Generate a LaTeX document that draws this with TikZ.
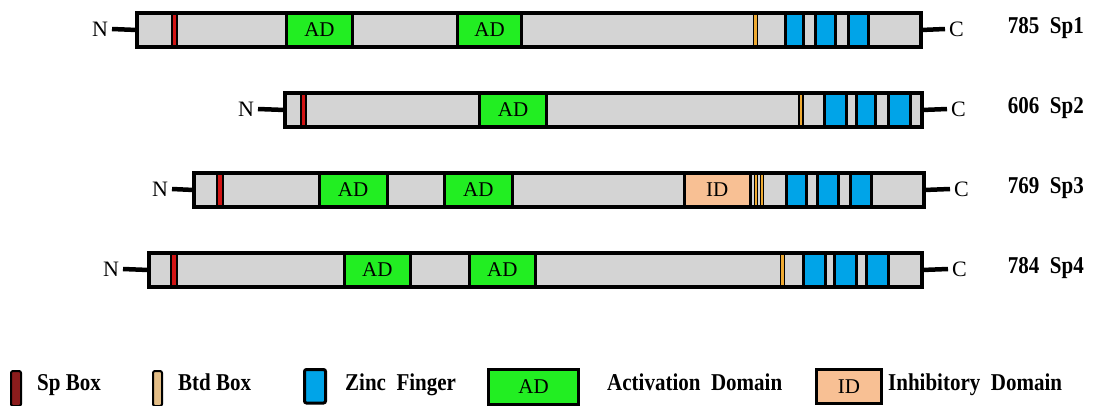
\documentclass[tikz,border=0pt]{standalone}
\usepackage{fontspec}
\usepackage{graphicx}
\setmainfont{Liberation Serif}
\definecolor{protgray}{RGB}{212,212,212}
\definecolor{adgreen}{RGB}{34,238,34}
\definecolor{znblue}{RGB}{0,164,232}
\definecolor{spred}{RGB}{210,20,20}
\definecolor{btdorange}{RGB}{238,170,50}
\definecolor{idpeach}{RGB}{248,192,148}
\definecolor{legred}{RGB}{140,28,28}
\definecolor{legtan}{RGB}{228,190,135}
\newcommand\tallt[1]{\scalebox{1}[1.15]{#1}}
\newcommand\protseg[6]{\node[#2, minimum width={(#4-#3)*1pt}] (#1) at ({(#3+#4)/2},#5) {#6};}
\newcommand\legbox[7]{\node[#2, minimum width={(#4-#3)*1pt}, minimum height={(#6-#5)*1pt}] (#1) at ({(#3+#4)/2},{(#5+#6)/2}) {#7};}
\tikzset{
  protfill/.style={rectangle, fill=protgray, inner sep=0pt, outer sep=0pt, minimum height=34pt},
  protborder/.style={draw=black, line width=4pt},
  dom/.style={rectangle, draw=black, line width=3pt, inner sep=0pt, outer sep=0pt, minimum height=34pt, font=\fontsize{21}{24}\selectfont},
  adbox/.style={dom, fill=adgreen},
  idbox/.style={dom, fill=idpeach},
  zfbox/.style={dom, fill=znblue},
  spbox/.style={dom, fill=spred, line width=1.5pt},
  btdbox/.style={dom, fill=btdorange, line width=1.2pt},
  term/.style={font=\fontsize{22}{24}\selectfont, inner xsep=4pt, inner ysep=0pt, outer sep=0pt},
  conn/.style={line width=4.5pt},
  protname/.style={font=\bfseries\fontsize{21}{24}\selectfont, inner sep=0pt},
  legtext/.style={font=\bfseries\fontsize{21}{24}\selectfont, inner sep=0pt},
  legsp/.style={rectangle, rounded corners=2pt, draw=black, line width=2pt, fill=legred, inner sep=0pt},
  legbtd/.style={rectangle, rounded corners=2pt, draw=black, line width=2pt, fill=legtan, inner sep=0pt},
  legzf/.style={rectangle, rounded corners=2pt, draw=black, line width=3pt, fill=znblue, inner sep=0pt},
  legad/.style={rectangle, draw=black, line width=3pt, fill=adgreen, inner sep=0pt, font=\fontsize{21}{24}\selectfont},
  legid/.style={rectangle, draw=black, line width=3pt, fill=idpeach, inner sep=0pt, font=\fontsize{21}{24}\selectfont},
}
\begin{document}
\begin{tikzpicture}[x=1pt,y=-1pt]
\useasboundingbox (0,0) rectangle (1103,405);
\fill[white] (0,0) rectangle (1103,405);

% ---------- Sp1 ----------
\protseg{p1}{protfill}{137}{921}{30}{}
\protseg{sp1}{spbox}{172}{177}{30}{}
\protseg{ad1a}{adbox}{286.5}{352.5}{30}{AD}
\protseg{ad1b}{adbox}{457.5}{521.5}{30}{AD}
\protseg{bt1}{btdbox}{753.5}{757.5}{30}{}
\protseg{z1a}{zfbox}{785.5}{803.5}{30}{}
\protseg{z1b}{zfbox}{815.5}{835.5}{30}{}
\protseg{z1c}{zfbox}{848.5}{868.5}{30}{}
\draw[protborder] (p1.north west) rectangle (p1.south east);
\node[term, anchor=east] (n1) at (112,29) {N};
\node[term, anchor=west] (c1) at (945,29) {C};
\draw[conn] (n1.east) -- (p1.west);
\draw[conn] (p1.east) -- (c1.west);
\node[protname, anchor=base east] (l1) at (1084,33) {\tallt{785\ \ Sp1}};

% ---------- Sp2 ----------
\protseg{p2}{protfill}{285}{922}{110}{}
\protseg{sp2}{spbox}{301}{306}{110}{}
\protseg{ad2a}{adbox}{479.5}{546.5}{110}{AD}
\protseg{bt2}{btdbox}{799}{803}{110}{}
\protseg{z2a}{zfbox}{824.5}{846.5}{110}{}
\protseg{z2b}{zfbox}{856.5}{875.5}{110}{}
\protseg{z2c}{zfbox}{888.5}{910.5}{110}{}
\draw[protborder] (p2.north west) rectangle (p2.south east);
\node[term, anchor=east] (n2) at (258,109) {N};
\node[term, anchor=west] (c2) at (947,109) {C};
\draw[conn] (n2.east) -- (p2.west);
\draw[conn] (p2.east) -- (c2.west);
\node[protname, anchor=base east] (l2) at (1084,113) {\tallt{606\ \ Sp2}};

% ---------- Sp3 ----------
\protseg{p3}{protfill}{194}{924}{190}{}
\protseg{sp3}{spbox}{217}{223}{190}{}
\protseg{ad3a}{adbox}{319}{387}{190}{AD}
\protseg{ad3b}{adbox}{444}{512.5}{190}{AD}
\protseg{id3}{idbox}{684}{750.5}{190}{ID}
\protseg{bt3a}{btdbox}{754.5}{757.5}{190}{}
\protseg{bt3b}{btdbox}{760.5}{763.5}{190}{}
\protseg{z3a}{zfbox}{786.5}{806.5}{190}{}
\protseg{z3b}{zfbox}{817.5}{838.5}{190}{}
\protseg{z3c}{zfbox}{850.5}{871.5}{190}{}
\draw[protborder] (p3.north west) rectangle (p3.south east);
\node[term, anchor=east] (n3) at (172,189) {N};
\node[term, anchor=west] (c3) at (950,189) {C};
\draw[conn] (n3.east) -- (p3.west);
\draw[conn] (p3.east) -- (c3.west);
\node[protname, anchor=base east] (l3) at (1084,193) {\tallt{769\ \ Sp3}};

% ---------- Sp4 ----------
\protseg{p4}{protfill}{148.5}{922}{270}{}
\protseg{sp4}{spbox}{171}{177}{270}{}
\protseg{ad4a}{adbox}{344}{410.5}{270}{AD}
\protseg{ad4b}{adbox}{469}{535.5}{270}{AD}
\protseg{bt4}{btdbox}{780.5}{784.5}{270}{}
\protseg{z4a}{zfbox}{803.5}{825.5}{270}{}
\protseg{z4b}{zfbox}{834.5}{856.5}{270}{}
\protseg{z4c}{zfbox}{866.5}{888.5}{270}{}
\draw[protborder] (p4.north west) rectangle (p4.south east);
\node[term, anchor=east] (n4) at (123,269) {N};
\node[term, anchor=west] (c4) at (948,269) {C};
\draw[conn] (n4.east) -- (p4.west);
\draw[conn] (p4.east) -- (c4.west);
\node[protname, anchor=base east] (l4) at (1084,273) {\tallt{784\ \ Sp4}};

% ---------- Legend ----------
\legbox{ksp}{legsp}{11}{21}{371}{406}{}
\node[legtext, anchor=base west] (tsp) at (37,390) {\tallt{Sp Box}};
\legbox{kbt}{legbtd}{153}{162}{371}{406}{}
\node[legtext, anchor=base west] (tbt) at (178,390) {\tallt{Btd Box}};
\legbox{kzf}{legzf}{304.5}{325.5}{369.5}{403}{}
\node[legtext, anchor=base west] (tzf) at (345,390) {\tallt{Zinc\ \ Finger}};
\legbox{kad}{legad}{488.5}{578.5}{369.5}{404}{AD}
\node[legtext, anchor=base west] (tad) at (607,390) {\tallt{Activation\ \ Domain}};
\legbox{kid}{legid}{816.5}{881.5}{369.5}{403}{ID}
\node[legtext, anchor=base west] (tid) at (888,390) {\tallt{Inhibitory\ \ Domain}};
\end{tikzpicture}
\end{document}
